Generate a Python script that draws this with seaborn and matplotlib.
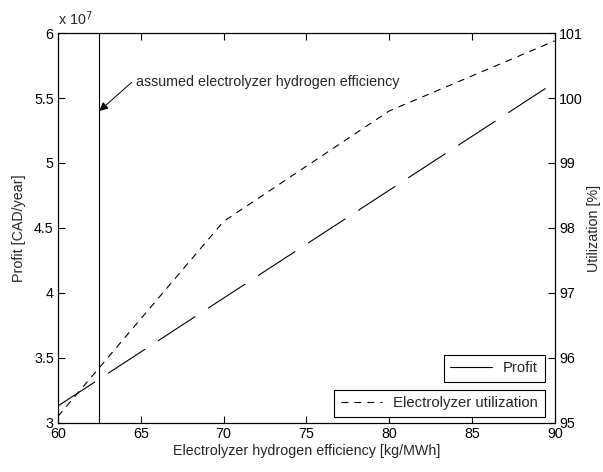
import matplotlib
matplotlib.use("Agg")
import matplotlib.pyplot as plt
import seaborn as sns
import pandas as pd
from matplotlib.lines import Line2D
from matplotlib.ticker import FuncFormatter

# Data
efficiency = [60, 70, 80, 90]                       # kg/MWh
profit = [3.13e7, 3.96e7, 4.79e7, 5.62e7]          # CAD/year
util_eff = [60, 70, 80, 90]
utilization = [95.1, 98.1, 99.8, 100.88]          # %
assumed_eff = 62.5
x_ticks = [60, 65, 70, 75, 80, 85, 90]
left_ticks = [3.0e7, 3.5e7, 4.0e7, 4.5e7, 5.0e7, 5.5e7, 6.0e7]
right_ticks = [95, 96, 97, 98, 99, 100, 101]

sns.set_theme(style="ticks")
plt.rcParams["font.family"] = ["Liberation Sans", "DejaVu Sans"]
plt.rcParams["lines.scale_dashes"] = False
plt.rcParams["xtick.direction"] = "in"
plt.rcParams["ytick.direction"] = "in"

df_p = pd.DataFrame({"eff": efficiency, "profit": profit})
df_u = pd.DataFrame({"eff": util_eff, "util": utilization})

fig = plt.figure(figsize=(6.03, 4.72), dpi=100)
ax = fig.add_axes([0.096, 0.104, 0.824, 0.826])
ax2 = ax.twinx()

vline = ax.axvline(assumed_eff, color="black", lw=0.8)
sns.lineplot(data=df_p, x="eff", y="profit", ax=ax, color="black", lw=0.8,
             dashes=False)
ax.lines[-1].set_dashes([32, 11])
sns.lineplot(data=df_u, x="eff", y="util", ax=ax2, color="black", lw=0.8)
ax2.lines[-1].set_dashes([5, 4.3])

ax.set_xlim(60, 90)
ax.set_ylim(3e7, 6e7)
ax2.set_ylim(95, 101)
ax.set_xticks(x_ticks)
ax.set_yticks(left_ticks)
ax2.set_yticks(right_ticks)
ax.yaxis.set_major_formatter(FuncFormatter(lambda v, p: f"{v/1e7:g}"))

for a in (ax, ax2):
    for s in a.spines.values():
        s.set_linewidth(0.8)
        s.set_color("black")
    a.tick_params(length=5, width=0.8, labelsize=10.3, colors="black", pad=3)
ax.tick_params(top=True, which="both")

ax.set_xlabel("Electrolyzer hydrogen efficiency [kg/MWh]", fontsize=10.3, labelpad=2)
ax.set_ylabel("Profit [CAD/year]", fontsize=10.3, labelpad=6)
ax2.set_ylabel("Utilization [%]", fontsize=10.3, labelpad=3)

ax.text(0.0, 1.012, r"x 10$^7$", transform=ax.transAxes, fontsize=10.3,
        ha="left", va="bottom")

# annotation: arrow and label
ax.annotate("", xy=(assumed_eff, 5.40e7), xytext=(64.45, 5.62e7),
            arrowprops=dict(arrowstyle="-|>", color="black", lw=0.7,
                            mutation_scale=13, shrinkA=0, shrinkB=0))
ax.text(64.7, 5.625e7, "assumed electrolyzer hydrogen efficiency",
        fontsize=10.3, ha="left", va="center")

leg_kw = dict(loc="lower right", fancybox=False, edgecolor="black",
              framealpha=1, fontsize=10.7, handlelength=2.8,
              handletextpad=0.75, borderpad=0.45, borderaxespad=0)
leg1 = ax.legend([Line2D([], [], color="black", lw=0.8)], ["Profit"],
                 bbox_to_anchor=(0.98, 0.105), **leg_kw)
leg1.get_frame().set_linewidth(0.8)
leg2 = ax2.legend([Line2D([], [], color="black", lw=0.8, dashes=[5, 4.3])],
                  ["Electrolyzer utilization"],
                  bbox_to_anchor=(0.98, 0.015), **leg_kw)
leg2.get_frame().set_linewidth(0.8)

fig.savefig("out.png", dpi=100, facecolor="white")
